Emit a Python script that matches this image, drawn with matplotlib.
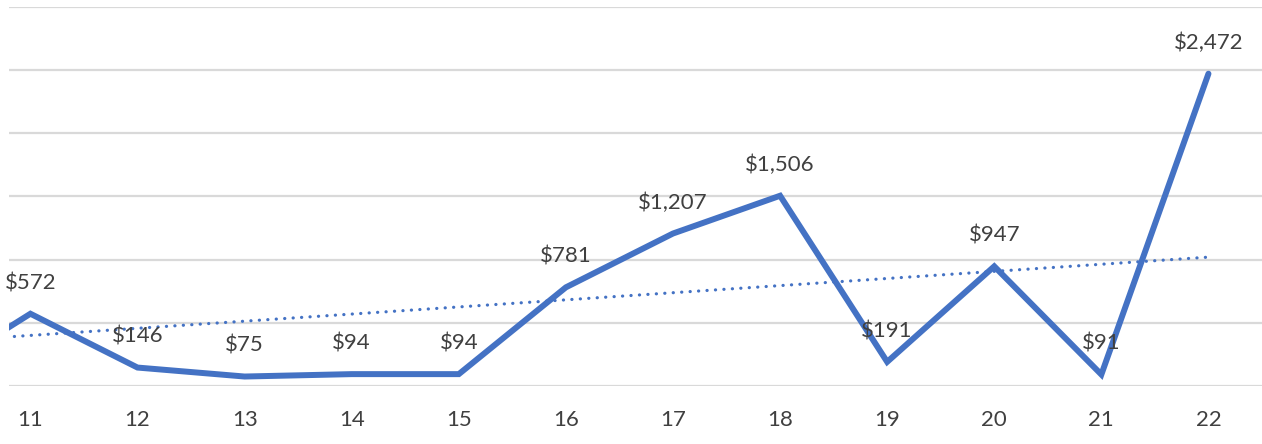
import numpy as np
from matplotlib import pyplot as plt

# data (category 10 sits just off the left edge of the plot)
months = [10, 11, 12, 13, 14, 15, 16, 17, 18, 19, 20, 21, 22]
sales = [40, 572, 146, 75, 94, 94, 781, 1207, 1506, 191, 947, 91, 2472]
tick_labels = ['11', '12', '13', '14', '15', '16', '17', '18', '19', '20', '21', '22']
trend_x = [10.85, 22]
trend_y = [392, 1020]

blue = '#4472C4'
text_col = '#404040'
grid_col = '#D9D9D9'

plt.rcParams['font.family'] = ['Lato', 'DejaVu Sans']

fig = plt.figure(figsize=(12.62, 4.44), dpi=100)
W, H = 1262, 444
ax = fig.add_axes([9 / W, (H - 386) / H, (W - 9) / W, (386 - 7) / H])

ax.set_xlim(10.8, 22.5)
ax.set_ylim(0, 3000)
ax.set_yticks(np.arange(0, 3001, 500))
ax.yaxis.grid(True, color=grid_col, linewidth=1.6)
ax.set_axisbelow(True)
for s in ax.spines.values():
    s.set_visible(False)
ax.tick_params(axis='y', left=False, labelleft=False)
ax.tick_params(axis='x', length=0, pad=17, labelsize=16, labelcolor=text_col)
ax.set_xticks(months[1:])
ax.set_xticklabels(tick_labels)

ax.plot(months, sales, color=blue, linewidth=4.3, solid_joinstyle='miter',
        solid_capstyle='round', zorder=3)
ax.plot(trend_x, trend_y, color=blue, linewidth=2.3, linestyle=(0, (0.05, 2.6)),
        dash_capstyle='round', zorder=2)

for m, v in zip(months, sales):
    if m < 11:
        continue
    ax.annotate('${:,}'.format(v), (m, v), xytext=(0, 22), textcoords='offset points',
                ha='center', va='center', fontsize=16, color=text_col,
                annotation_clip=False, zorder=4)

fig.savefig('out.png', dpi=100)
